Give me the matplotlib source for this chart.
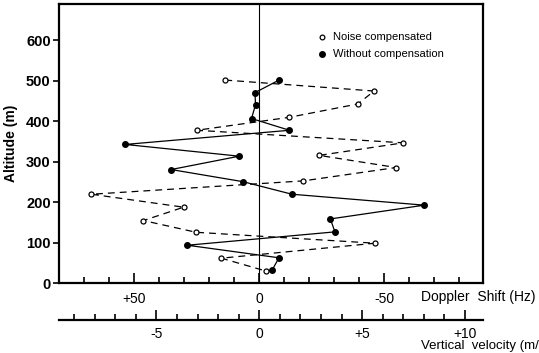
import matplotlib
matplotlib.use('Agg')
import matplotlib.pyplot as plt
import numpy as np

plt.rcParams['font.family'] = ['Liberation Sans', 'DejaVu Sans']

# noise compensated (open circles): doppler shift (Hz), altitude (m)
nc_shift = [13.6, -46.0, -39.5, -12.0, 25.0, -57.7, -24.0, -54.8, -17.7,
            67.2, 30.3, 46.4, 25.3, -46.4, 15.2, -2.8]
nc_alt = [502, 475, 443, 410, 378, 347, 316, 286, 253,
          220, 188, 155, 126, 99, 62, 30]

# without compensation (filled dots)
wc_shift = [-7.9, 1.7, 1.5, 3.1, -12.1, 53.7, 8.0, 35.3, 6.5,
            -13.1, -66.1, -28.5, -30.3, 28.8, -7.9, -5.1]
wc_alt = [502, 471, 441, 407, 378, 343, 314, 281, 251,
          220, 193, 159, 127, 94, 63, 32]

hz_per_ms = 8.24  # doppler shift per m/s of vertical velocity (sign reversed)

fig = plt.figure(figsize=(5.39, 3.53), dpi=100)
ax = fig.add_axes([0.1095, 0.1975, 0.7865, 0.7912])

ax.plot(nc_shift, nc_alt, color='black', lw=0.9, dashes=(5.5, 4),
        marker='o', ms=3.6, mfc='white', mec='black', mew=0.9)
ax.plot(wc_shift, wc_alt, color='black', lw=0.9, ls='-',
        marker='o', ms=4, mfc='black', mec='black')
ax.axvline(0, color='black', lw=0.8)

ax.set_xlim(80.2, -89.6)
ax.set_ylim(0, 690)

# doppler axis
ax.set_xticks([50, 0, -50])
ax.set_xticklabels(['+50', '0', '-50'], fontsize=10)
ax.set_xticks(np.arange(-80, 71, 10), minor=True)
ax.tick_params(axis='x', which='major', direction='in', length=7, width=1.2, pad=6)
ax.tick_params(axis='x', which='minor', direction='in', length=4, width=1.2)

ax.set_yticks(np.arange(0, 601, 100))
ax.set_yticklabels([str(v) for v in range(0, 601, 100)], fontsize=10.5, fontweight='bold')
ax.tick_params(axis='y', direction='out', length=4, width=1.2, pad=2)
ax.set_ylabel('Altitude (m)', fontsize=10, fontweight='bold', labelpad=6)

for s in ax.spines.values():
    s.set_linewidth(1.6)

# velocity axis
sec = ax.secondary_xaxis(-0.131, functions=(lambda f: -np.asarray(f) / hz_per_ms,
                                            lambda v: -np.asarray(v) * hz_per_ms))
sec.set_xticks([-5, 0, 5, 10])
sec.set_xticklabels(['-5', '0', '+5', '+10'], fontsize=10)
sec.set_xticks(np.arange(-9, 11, 1), minor=True)
sec.tick_params(axis='x', which='major', direction='in', length=7, width=1.2, pad=5)
sec.tick_params(axis='x', which='minor', direction='in', length=4, width=1.2)
sec.spines['bottom'].set_linewidth(1.6)

fig.text(0.781, 0.1586, 'Doppler  Shift (Hz)', fontsize=10, va='center', ha='left')
fig.text(0.781, 0.019, 'Vertical  velocity (m/s)', fontsize=9.5, va='center', ha='left')

# legend
ax.plot([0.5975], [0.8952], 'o', transform=fig.transFigure, ms=3.4,
        mfc='white', mec='black', mew=0.9, clip_on=False)
ax.plot([0.5975], [0.8470], 'o', transform=fig.transFigure, ms=4,
        color='black', clip_on=False)
fig.text(0.618, 0.8952, 'Noise compensated', fontsize=8, va='center', ha='left')
fig.text(0.618, 0.8470, 'Without compensation', fontsize=8, va='center', ha='left')

fig.savefig('out.png', dpi=100)
